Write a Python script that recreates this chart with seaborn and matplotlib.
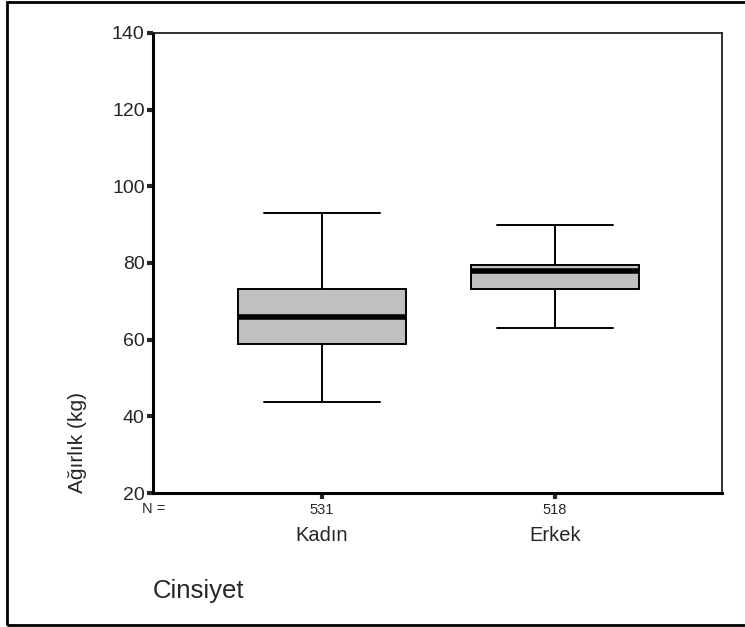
import matplotlib
matplotlib.use("Agg")
import matplotlib.pyplot as plt
import matplotlib.transforms as mtransforms
from matplotlib.patches import Rectangle
import pandas as pd
import seaborn as sns

# === Values (min, Q1, median, Q3, max) ===
categories = ["Kadın", "Erkek"]
kadin_stats = [43.8, 59.0, 66.0, 73.1, 93.0]
erkek_stats = [63.1, 73.1, 78.0, 79.6, 89.8]
counts = [531, 518]
y_ticks = [20, 40, 60, 80, 100, 120, 140]

BOX_FILL = "#C0C0C0"

# five-point sets: with whis=(0, 100) the box/whiskers land exactly on them
df = pd.DataFrame({
    "Cinsiyet": [categories[0]] * len(kadin_stats) + [categories[1]] * len(erkek_stats),
    "Agirlik": kadin_stats + erkek_stats,
})

sns.set_style("white")
plt.rcParams["font.family"] = ["Liberation Sans", "DejaVu Sans"]

fig = plt.figure(figsize=(7.45, 6.27), dpi=100)
ax = fig.add_axes([0.2054, 0.2137, 0.969 - 0.2054, 0.9474 - 0.2137])

sns.boxplot(
    data=df, x="Cinsiyet", y="Agirlik", order=categories, ax=ax,
    whis=(0, 100), width=0.72, color=BOX_FILL, saturation=1,
    linecolor="black", linewidth=1.4, showfliers=False,
    medianprops={"color": "black", "linewidth": 4},
    capwidths=0.5,
)

ax.set_ylim(20, 140)
ax.set_xlim(-0.725, 1.717)
ax.set_yticks(y_ticks)
ax.set_yticklabels([str(t) for t in y_ticks], fontsize=14)
ax.set_xticks([0, 1])
ax.set_xticklabels([str(c) for c in counts], fontsize=10.5)
ax.tick_params(axis="y", direction="out", length=4, width=3, pad=2, left=True)
ax.tick_params(axis="x", direction="out", length=4, width=3, pad=3, bottom=True)

# spines: heavy left/bottom, thin top/right
for side in ["left", "bottom"]:
    ax.spines[side].set_linewidth(2.2)
    ax.spines[side].set_color("black")
for side in ["top", "right"]:
    ax.spines[side].set_visible(True)
    ax.spines[side].set_linewidth(1.3)
    ax.spines[side].set_color("#222222")

# category names under the N counts
trans = mtransforms.blended_transform_factory(ax.transData, ax.transAxes)
for i, name in enumerate(categories):
    ax.text(i, -0.093, name, transform=trans, ha="center", va="center", fontsize=14.5)
ax.text(-0.019, -0.034, "N =", transform=ax.transAxes, ha="left", va="center", fontsize=10.5)

ax.set_ylabel("Ağırlık (kg)", fontsize=15, loc="bottom", labelpad=18)
ax.set_xlabel("Cinsiyet", fontsize=18.5, loc="left", labelpad=45)

# outer frame round the whole figure
fig.patches.append(Rectangle(
    (7 / 745, 2 / 627), 1.05, 623 / 627, transform=fig.transFigure,
    fill=False, edgecolor="black", linewidth=2, clip_on=False,
))

fig.savefig("out.png", dpi=100)
